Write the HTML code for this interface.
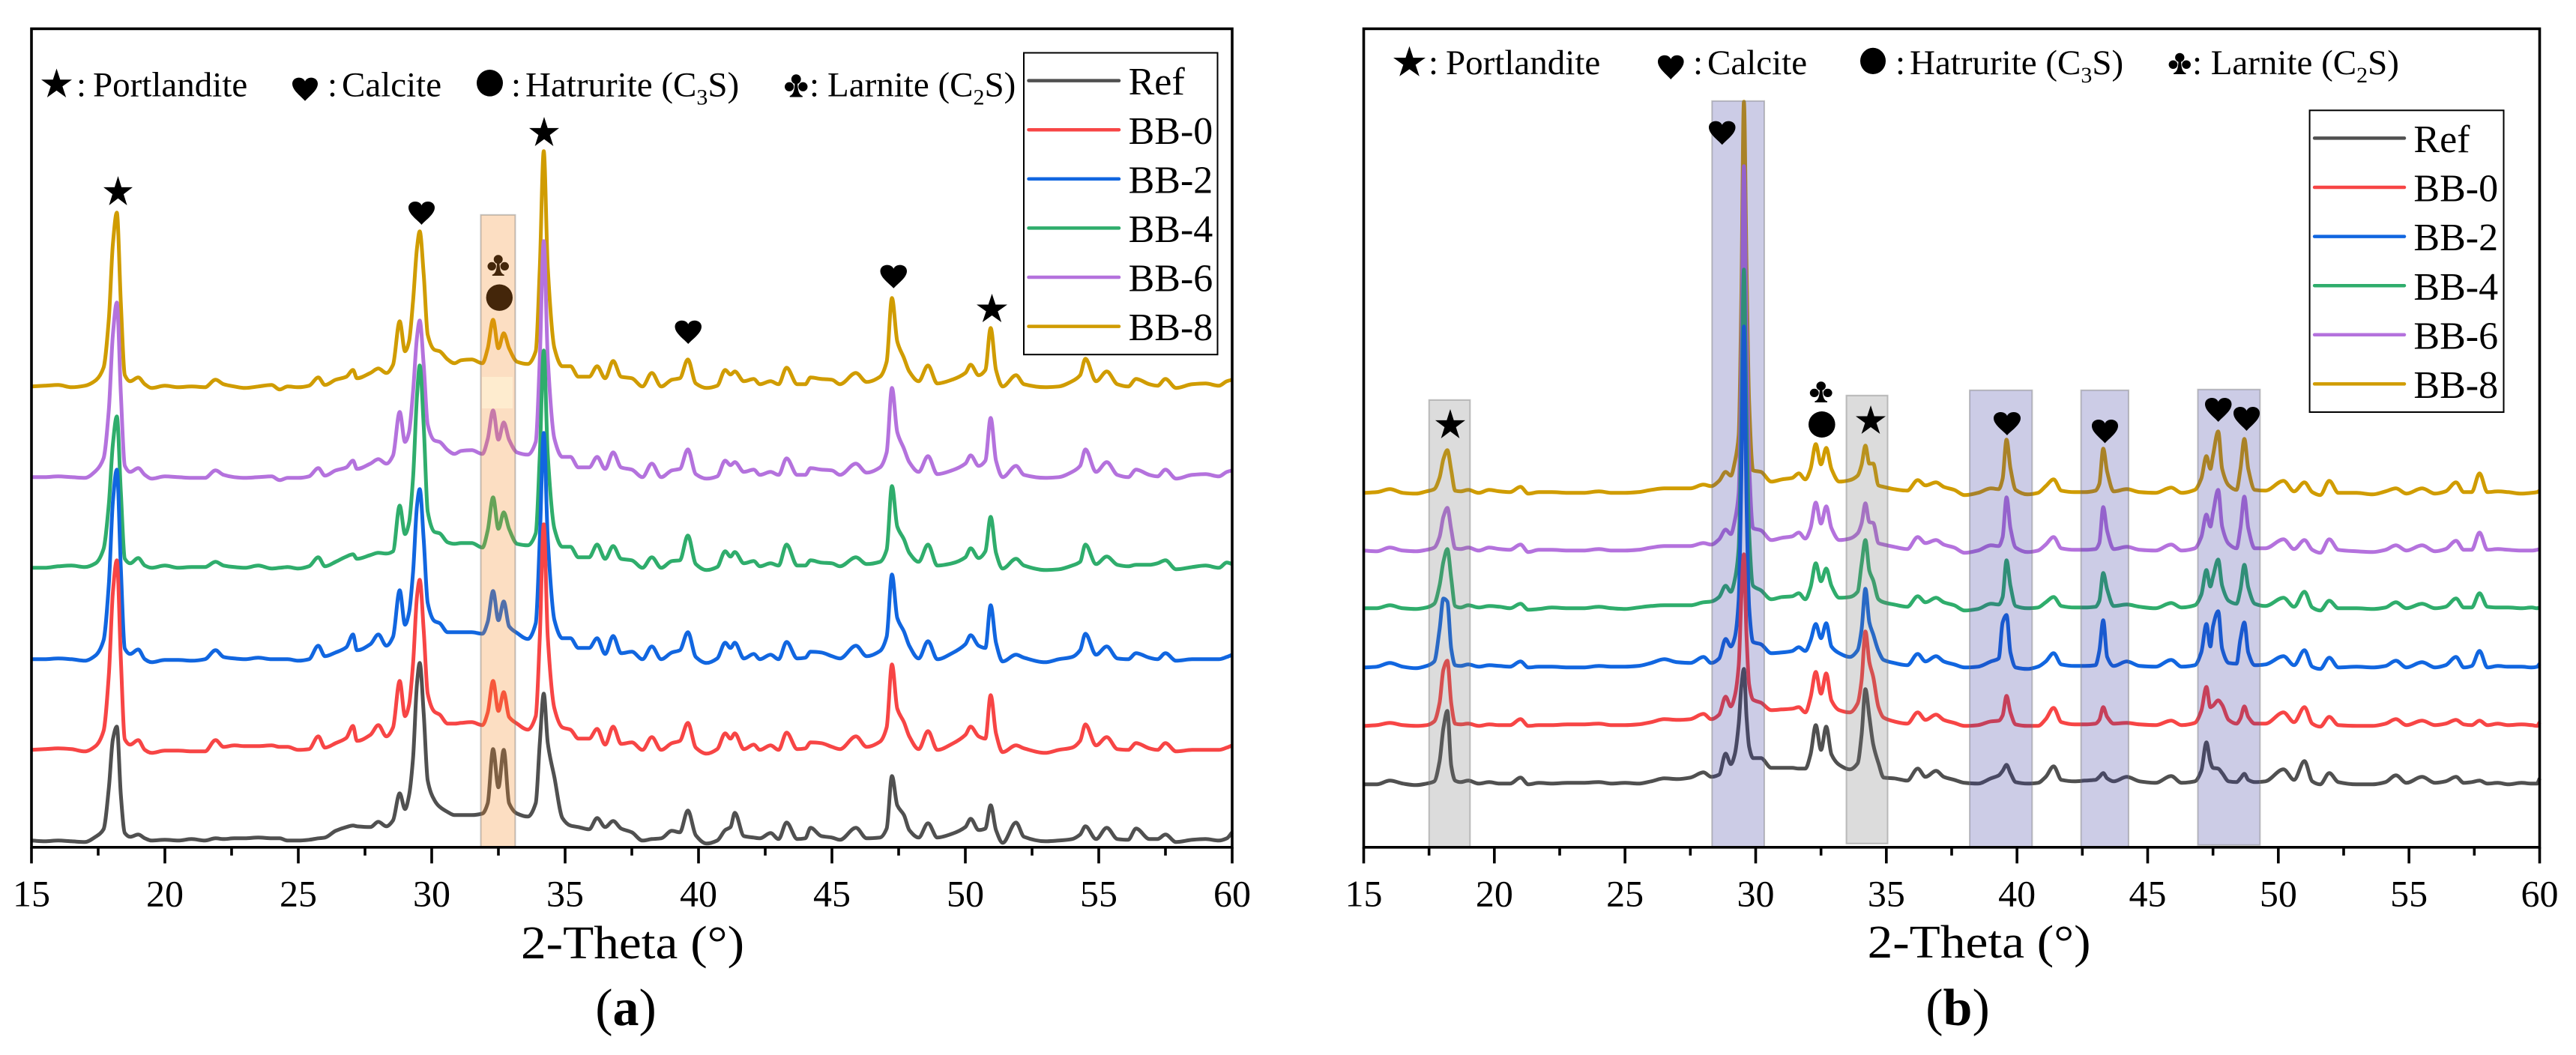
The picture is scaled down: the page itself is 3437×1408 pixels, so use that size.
<!DOCTYPE html>
<html lang="en">
<head>
<meta charset="utf-8">
<title>XRD patterns of Ref and BB samples</title>
<style>
html,body{margin:0;padding:0;background:#fff;width:3437px;height:1408px;overflow:hidden}
svg{display:block}
text{font-family:"Liberation Serif",serif;fill:#000}
.tick{font-size:50px;text-anchor:middle}
.ann{font-size:47px}
.leg{font-size:52px}
.mk{fill:#000}
</style>
</head>
<body>
<svg xmlns="http://www.w3.org/2000/svg" width="3437" height="1408" viewBox="0 0 3437 1408">
<rect x="0" y="0" width="3437" height="1408" fill="#fff"/>

<!-- PANEL A -->
<g id="panel-a">
  <g id="a-series"></g>
  <path class="mk" transform="translate(650.5,340) scale(28.5,28)" d="M.29 .22a.21 .21 0 1 1 .42 0a.21 .21 0 1 1 -.42 0Z M0 .55a.2 .2 0 1 1 .4 0a.2 .2 0 1 1 -.4 0Z M.6 .55a.2 .2 0 1 1 .4 0a.2 .2 0 1 1 -.4 0Z M.44 .3H.56C.56 .7 .62 .9 .78 .95V1H.22V.95C.38 .9 .44 .7 .44 .3Z"/>
  <ellipse class="mk" cx="666.3" cy="397.2" rx="17.7" ry="17.7"/>
  <g id="a-bands"></g>
  <rect x="643" y="503" width="41" height="42" fill="#feeccf"/>
  <path class="mk" transform="translate(138,235) scale(39,39)" d="M.5 0L.618 .382L1 .382L.691 .618L.809 1L.5 .764L.191 1L.309 .618L0 .382L.382 .382Z"/>
  <path class="mk" transform="translate(545,269) scale(35,31)" d="M.5 1C.35 .8 0 .55 0 .26C0 .1 .12 0 .26 0C.37 0 .46 .06 .5 .16C.54 .06 .63 0 .74 0C.88 0 1 .1 1 .26C1 .55 .65 .8 .5 1Z"/>
  <path class="mk" transform="translate(706,156) scale(40,39)" d="M.5 0L.618 .382L1 .382L.691 .618L.809 1L.5 .764L.191 1L.309 .618L0 .382L.382 .382Z"/>
  <path class="mk" transform="translate(900.5,427.7) scale(35.5,31.3)" d="M.5 1C.35 .8 0 .55 0 .26C0 .1 .12 0 .26 0C.37 0 .46 .06 .5 .16C.54 .06 .63 0 .74 0C.88 0 1 .1 1 .26C1 .55 .65 .8 .5 1Z"/>
  <path class="mk" transform="translate(1174.5,353.6) scale(35.5,31.2)" d="M.5 1C.35 .8 0 .55 0 .26C0 .1 .12 0 .26 0C.37 0 .46 .06 .5 .16C.54 .06 .63 0 .74 0C.88 0 1 .1 1 .26C1 .55 .65 .8 .5 1Z"/>
  <path class="mk" transform="translate(1303,392) scale(41,38)" d="M.5 0L.618 .382L1 .382L.691 .618L.809 1L.5 .764L.191 1L.309 .618L0 .382L.382 .382Z"/>

  <g>
    <path class="mk" transform="translate(55,91.5) scale(41,38.5)" d="M.5 0L.618 .382L1 .382L.691 .618L.809 1L.5 .764L.191 1L.309 .618L0 .382L.382 .382Z"/>
    <text class="ann" x="102" y="128.6">:<tspan x="124">Portlandite</tspan></text>
    <path class="mk" transform="translate(390,103.6) scale(34,31.2)" d="M.5 1C.35 .8 0 .55 0 .26C0 .1 .12 0 .26 0C.37 0 .46 .06 .5 .16C.54 .06 .63 0 .74 0C.88 0 1 .1 1 .26C1 .55 .65 .8 .5 1Z"/>
    <text class="ann" x="437" y="128.6">:<tspan x="456">Calcite</tspan></text>
    <ellipse class="mk" cx="653.5" cy="110.8" rx="17.5" ry="17.8"/>
    <text class="ann" x="682" y="128.6">:<tspan x="701">Hatrurite (C</tspan><tspan dy="11" font-size="30">3</tspan><tspan dy="-11">S)</tspan></text>
    <path class="mk" transform="translate(1047,99) scale(30.5,30.5)" d="M.29 .22a.21 .21 0 1 1 .42 0a.21 .21 0 1 1 -.42 0Z M0 .55a.2 .2 0 1 1 .4 0a.2 .2 0 1 1 -.4 0Z M.6 .55a.2 .2 0 1 1 .4 0a.2 .2 0 1 1 -.4 0Z M.44 .3H.56C.56 .7 .62 .9 .78 .95V1H.22V.95C.38 .9 .44 .7 .44 .3Z"/>
    <text class="ann" x="1080" y="128.6">:<tspan x="1104">Larnite (C</tspan><tspan dy="11" font-size="30">2</tspan><tspan dy="-11">S)</tspan></text>
  </g>
  <g id="a-axes"></g>
  <text x="844" y="1279" font-size="62" text-anchor="middle" textLength="298" lengthAdjust="spacingAndGlyphs">2-Theta (°)</text>
  <text x="835" y="1368" font-size="70" text-anchor="middle">(<tspan font-weight="bold">a</tspan>)</text>
  <g id="a-legend"></g>
</g>

<!-- PANEL B -->
<g id="panel-b">
  <g id="b-series"></g>
  <g id="b-bands"></g>
  <path class="mk" transform="translate(1915,546) scale(40,39)" d="M.5 0L.618 .382L1 .382L.691 .618L.809 1L.5 .764L.191 1L.309 .618L0 .382L.382 .382Z"/>
  <path class="mk" transform="translate(2280,161.6) scale(35.5,31.7)" d="M.5 1C.35 .8 0 .55 0 .26C0 .1 .12 0 .26 0C.37 0 .46 .06 .5 .16C.54 .06 .63 0 .74 0C.88 0 1 .1 1 .26C1 .55 .65 .8 .5 1Z"/>
  <path class="mk" transform="translate(2414.8,509) scale(29.8,28)" d="M.29 .22a.21 .21 0 1 1 .42 0a.21 .21 0 1 1 -.42 0Z M0 .55a.2 .2 0 1 1 .4 0a.2 .2 0 1 1 -.4 0Z M.6 .55a.2 .2 0 1 1 .4 0a.2 .2 0 1 1 -.4 0Z M.44 .3H.56C.56 .7 .62 .9 .78 .95V1H.22V.95C.38 .9 .44 .7 .44 .3Z"/>
  <ellipse class="mk" cx="2430.8" cy="566.5" rx="17.8" ry="17.5"/>
  <path class="mk" transform="translate(2476,541) scale(40,38)" d="M.5 0L.618 .382L1 .382L.691 .618L.809 1L.5 .764L.191 1L.309 .618L0 .382L.382 .382Z"/>
  <path class="mk" transform="translate(2660,550) scale(36,31)" d="M.5 1C.35 .8 0 .55 0 .26C0 .1 .12 0 .26 0C.37 0 .46 .06 .5 .16C.54 .06 .63 0 .74 0C.88 0 1 .1 1 .26C1 .55 .65 .8 .5 1Z"/>
  <path class="mk" transform="translate(2791,560) scale(35,31.5)" d="M.5 1C.35 .8 0 .55 0 .26C0 .1 .12 0 .26 0C.37 0 .46 .06 .5 .16C.54 .06 .63 0 .74 0C.88 0 1 .1 1 .26C1 .55 .65 .8 .5 1Z"/>
  <path class="mk" transform="translate(2942,531) scale(35.5,32)" d="M.5 1C.35 .8 0 .55 0 .26C0 .1 .12 0 .26 0C.37 0 .46 .06 .5 .16C.54 .06 .63 0 .74 0C.88 0 1 .1 1 .26C1 .55 .65 .8 .5 1Z"/>
  <path class="mk" transform="translate(2980,543) scale(35,32)" d="M.5 1C.35 .8 0 .55 0 .26C0 .1 .12 0 .26 0C.37 0 .46 .06 .5 .16C.54 .06 .63 0 .74 0C.88 0 1 .1 1 .26C1 .55 .65 .8 .5 1Z"/>

  <g>
    <path class="mk" transform="translate(1859,61.6) scale(43,40.2)" d="M.5 0L.618 .382L1 .382L.691 .618L.809 1L.5 .764L.191 1L.309 .618L0 .382L.382 .382Z"/>
    <text class="ann" x="1906" y="99">:<tspan x="1929">Portlandite</tspan></text>
    <path class="mk" transform="translate(2212,73.7) scale(34.6,32.3)" d="M.5 1C.35 .8 0 .55 0 .26C0 .1 .12 0 .26 0C.37 0 .46 .06 .5 .16C.54 .06 .63 0 .74 0C.88 0 1 .1 1 .26C1 .55 .65 .8 .5 1Z"/>
    <text class="ann" x="2259" y="99">:<tspan x="2278">Calcite</tspan></text>
    <ellipse class="mk" cx="2499" cy="81.4" rx="17" ry="17.6"/>
    <text class="ann" x="2529" y="99">:<tspan x="2548">Hatrurite (C</tspan><tspan dy="11" font-size="30">3</tspan><tspan dy="-11">S)</tspan></text>
    <path class="mk" transform="translate(2893.6,70.5) scale(29.4,28.5)" d="M.29 .22a.21 .21 0 1 1 .42 0a.21 .21 0 1 1 -.42 0Z M0 .55a.2 .2 0 1 1 .4 0a.2 .2 0 1 1 -.4 0Z M.6 .55a.2 .2 0 1 1 .4 0a.2 .2 0 1 1 -.4 0Z M.44 .3H.56C.56 .7 .62 .9 .78 .95V1H.22V.95C.38 .9 .44 .7 .44 .3Z"/>
    <text class="ann" x="2925" y="99">:<tspan x="2949.7">Larnite (C</tspan><tspan dy="11" font-size="30">2</tspan><tspan dy="-11">S)</tspan></text>
  </g>
  <g id="b-axes"></g>
  <text x="2640.6" y="1278" font-size="62" text-anchor="middle" textLength="298" lengthAdjust="spacingAndGlyphs">2-Theta (°)</text>
  <text x="2612" y="1368" font-size="70" text-anchor="middle">(<tspan font-weight="bold">b</tspan>)</text>
  <g id="b-legend"></g>
</g>
</svg>

<script>
var xTickLabels = [15, 20, 25, 30, 35, 40, 45, 50, 55, 60];
var seriesNames = ['Ref', 'BB-0', 'BB-2', 'BB-4', 'BB-6', 'BB-8'];

/* ---------- Panel (a): 2-theta grid, stack offsets (a.u.), intensities (a.u.) ---------- */
var thetaA = [
15,15.5,16,16.5,17,17.4,17.7,17.9,18.05,18.2,
18.35,18.5,18.7,19,19.25,19.5,20,20.5,21,21.5,
21.9,22.2,22.6,23,23.5,24,24.3,24.6,25,25.4,
25.75,26,26.4,26.8,27.05,27.2,27.7,28,28.3,28.55,
28.8,29,29.15,29.3,29.45,29.55,29.7,29.85,30.1,30.3,
30.6,30.85,31.1,31.5,31.9,32.1,32.3,32.5,32.7,32.9,
33.2,33.6,33.9,34.05,34.2,34.35,34.6,34.9,35.2,35.5,
35.9,36.2,36.5,36.8,37.1,37.5,37.9,38.25,38.6,39,
39.3,39.6,39.9,40.3,40.7,41,41.2,41.36,41.7,42.07,
42.3,42.7,43,43.3,43.7,44,44.2,44.6,45,45.3,
45.9,46.3,46.8,47.05,47.25,47.45,47.7,47.9,48.25,48.6,
48.95,49.5,50,50.2,50.5,50.75,50.95,51.15,51.4,51.9,
52.2,53,53.5,54,54.3,54.5,54.9,55.3,55.7,56.1,
56.4,56.9,57.2,57.5,57.9,58.5,59,59.5,59.8,60];
var stackA = [9, 130, 251, 373, 494, 615];
var aRef = [
0,-1,0,-1,-2,5,15,70,135,152,
60,10,5,8,3,0,1,0,2,0,
3,2,3,3,4,3,3,0,0,1,
3,4,13,18,20,19,18,25,19,27,
63,42,60,110,210,237,170,80,54,45,
38,34,34,34,36,50,122,71,121,50,
36,32,50,130,196,130,84,30,20,18,
15,30,18,26,16,11,0,2,3,13,
11,40,7,-4,0,14,18,37,6,4,
3,10,2,24,2,3,17,6,4,1,
17,3,4,16,86,47,34,14,4,23,
4,9,18,29,14,16,47,14,-3,24,
5,-1,0,2,8,19,2,17,2,1,
16,2,2,8,-2,1,2,0,3,11];
var aBB0 = [
0,1,2,1,-2,5,25,100,210,253,
120,14,7,13,0,-4,-1,-1,-2,-2,
13,4,6,5,5,6,4,4,0,1,
18,3,9,16,32,12,20,33,18,30,
92,45,60,115,205,227,160,75,51,47,
35,35,36,37,33,50,92,52,77,44,
35,27,45,150,301,150,55,30,27,15,
15,28,7,31,8,10,0,17,0,9,
12,36,3,-5,1,22,15,22,1,7,
0,6,0,23,1,2,10,9,4,1,
18,4,11,30,114,55,37,18,1,25,
0,8,20,31,18,15,73,22,-3,6,
2,-4,0,3,12,34,6,17,1,0,
9,2,0,9,-2,0,0,0,3,6];
var aBB2 = [
0,0,1,0,-2,5,25,100,210,253,
120,14,7,13,0,-4,-1,-1,-2,0,
12,3,1,0,2,0,0,0,-2,0,
18,4,9,16,33,12,20,33,18,30,
92,46,62,116,205,227,160,75,51,48,
36,36,36,36,34,50,91,52,77,44,
35,27,48,160,302,160,52,28,28,15,
15,28,7,31,8,10,0,17,0,9,
12,36,3,-5,1,22,15,22,1,7,
0,6,0,23,1,2,10,9,4,1,
18,4,11,30,113,55,37,18,1,24,
0,8,20,32,18,15,72,22,-3,6,
2,-4,0,3,12,34,6,17,1,0,
8,2,0,8,-2,0,0,0,3,6];
var aBB4 = [
0,0,2,3,1,6,25,85,165,202,
100,12,6,13,3,0,3,0,1,1,
8,3,1,0,3,-1,0,1,-1,2,
14,2,8,15,18,12,17,20,19,22,
83,45,60,120,230,270,190,75,48,46,
34,32,33,33,27,50,94,52,74,52,
32,30,46,150,290,150,52,28,28,14,
14,31,12,29,12,10,0,14,0,9,
10,43,5,-3,1,22,15,21,6,9,
2,6,3,31,3,3,10,7,6,2,
14,5,8,24,109,55,38,20,8,31,
3,6,14,26,13,22,68,20,-1,12,
3,-3,-2,3,8,31,5,15,4,2,
4,4,6,10,-2,1,3,0,7,5];
var aBB6 = [
0,0,1,0,-1,8,25,90,190,233,
110,15,7,12,3,-2,1,0,-1,-1,
9,3,0,-1,0,1,-4,-1,-1,1,
12,2,9,13,22,11,18,24,18,29,
87,47,60,114,187,209,150,70,49,47,
36,31,35,36,31,51,89,50,73,50,
33,30,47,158,315,158,51,27,27,13,
13,27,11,33,13,10,0,18,0,9,
11,37,4,-2,1,22,16,20,7,10,
3,7,3,25,3,3,12,10,9,3,
18,6,13,33,119,60,38,20,7,28,
4,9,18,29,15,22,79,22,0,15,
3,-1,0,7,15,37,7,20,3,0,
10,3,1,10,-2,3,4,1,7,9];
var aBB8 = [
0,1,2,-1,1,8,25,90,190,232,
110,15,7,12,3,-2,1,-1,0,-1,
9,3,0,-2,0,2,-4,0,-1,1,
12,2,9,13,22,11,18,24,18,29,
87,47,60,114,185,207,150,69,49,47,
36,31,35,36,31,51,89,51,71,51,
33,30,47,158,314,158,51,27,27,13,
13,27,11,34,13,11,0,18,0,9,
11,36,4,-2,1,22,16,20,7,10,
3,7,3,25,3,3,12,10,9,3,
18,6,13,33,118,60,38,20,7,28,
4,9,18,29,15,22,78,22,0,15,
3,-1,0,7,15,37,7,20,3,0,
10,3,1,10,-2,3,4,1,7,9];

/* ---------- Panel (b) ---------- */
var thetaB = [
15,15.5,16,16.5,17,17.4,17.7,17.9,18.05,18.2,
18.35,18.5,18.7,19,19.4,19.8,20.2,20.6,21,21.3,
21.7,22.2,22.8,23.4,24,24.5,25,25.5,26,26.5,
27,27.5,28,28.3,28.6,28.85,29.05,29.2,29.35,29.45,
29.55,29.65,29.75,29.9,30.2,30.6,31,31.4,31.65,31.9,
32.1,32.3,32.5,32.7,32.9,33.2,33.6,33.9,34.05,34.2,
34.35,34.5,34.7,34.9,35.3,35.8,36.2,36.5,36.9,37.2,
37.6,38,38.5,39,39.3,39.45,39.6,39.75,39.95,40.4,
40.8,41.1,41.4,41.7,42.2,42.6,43,43.15,43.3,43.45,
43.7,44.2,44.7,45.3,45.9,46.3,46.8,47.05,47.25,47.4,
47.5,47.7,47.85,48.1,48.4,48.55,48.7,48.85,49.1,49.5,
50.2,50.6,51,51.3,51.6,51.95,52.3,53,53.6,54.1,
54.5,54.9,55.5,56,56.4,56.8,57.1,57.4,57.7,58,
58.4,58.8,59.3,59.7,59.9,60];
var stackB = [84, 162, 240, 319, 396, 473];
var bRef = [
0,0,5,1,-1,1,4,30,75,98,
25,5,3,5,1,3,1,1,9,0,
2,1,2,2,3,1,2,1,4,8,
7,9,16,10,13,41,27,40,80,130,
154,90,50,35,35,22,22,22,21,21,
40,79,46,77,40,26,20,28,65,127,
90,53,28,9,8,5,21,10,18,10,
6,2,1,8,12,18,26,15,3,1,
2,10,24,6,4,5,6,10,15,8,
4,10,4,2,11,2,4,18,56,30,
22,21,15,4,3,8,14,6,3,4,
20,6,31,4,0,15,3,0,0,3,
12,2,10,2,4,10,2,3,5,1,
2,0,2,1,1,8];
var bBB0 = [
0,1,4,1,0,1,6,30,75,87,
30,3,2,3,0,2,1,1,9,0,
1,1,2,2,3,1,1,2,5,9,
8,9,16,9,15,39,26,40,80,170,
229,120,55,35,31,21,22,23,25,18,
38,72,43,70,34,21,18,30,60,126,
85,65,25,11,6,3,18,8,15,8,
4,0,1,6,7,14,40,18,2,0,
0,9,24,5,2,2,3,8,25,12,
3,4,2,1,7,1,4,20,52,25,
27,34,28,8,3,10,26,12,3,3,
18,5,25,3,-1,12,1,0,0,3,
9,1,7,1,3,8,2,1,7,1,
3,1,2,1,0,5];
var bBB2 = [
0,1,6,1,-1,2,8,50,92,88,
25,3,2,4,1,3,2,1,8,0,
1,1,0,0,2,1,1,2,6,11,
7,6,14,6,12,38,28,40,90,250,
455,220,80,34,31,19,20,22,27,22,
36,58,39,59,28,19,14,23,50,105,
60,44,22,10,6,3,18,8,15,8,
4,0,1,8,12,60,70,20,0,-2,
1,8,19,4,2,2,3,22,63,14,
2,8,2,1,10,1,3,20,58,28,
55,75,25,6,5,38,60,20,3,4,
15,3,23,1,-2,13,0,1,0,2,
9,0,7,0,3,14,0,2,22,0,
2,1,1,0,1,5];
var bBB4 = [
0,0,4,0,-1,1,6,30,62,79,
40,3,1,4,1,3,2,0,6,-2,
-1,1,0,0,2,0,-1,1,3,4,
4,4,8,9,15,30,22,38,80,240,
452,250,100,30,24,12,15,16,20,12,
28,60,36,53,30,14,15,22,58,91,
50,37,12,8,5,2,16,8,14,8,
4,-3,-1,6,5,15,64,30,3,0,
1,8,15,3,1,1,2,10,47,25,
3,5,2,0,7,1,4,18,51,29,
42,65,30,10,6,25,58,28,6,3,
14,2,22,1,-3,10,0,0,-1,1,
8,0,6,0,2,13,1,1,20,2,
1,1,0,1,0,1];
var bBB6 = [
0,-1,4,0,-1,1,4,18,45,57,
28,3,2,4,0,4,2,1,8,-2,
1,1,0,0,2,0,0,1,4,6,
6,6,10,8,15,28,22,40,77,250,
513,290,115,30,27,14,17,19,24,16,
30,64,36,59,30,14,16,23,36,63,
38,37,10,8,5,2,18,10,14,8,
4,-3,0,7,6,18,71,30,4,-2,
0,8,18,3,1,1,2,10,58,26,
2,5,1,0,8,0,3,18,48,32,
50,81,32,9,3,30,72,30,3,3,
15,2,14,1,-3,15,1,-1,-2,1,
7,0,7,-1,2,13,1,1,24,1,
2,1,0,0,1,2];
var bBB8 = [
0,1,5,0,-1,2,5,20,45,57,
30,3,2,4,0,4,2,1,8,-1,
1,1,0,0,2,0,0,1,4,6,
6,6,11,9,16,28,23,41,77,255,
522,300,120,30,28,15,18,20,26,18,
32,65,38,60,32,15,17,23,37,63,
39,39,10,8,5,3,17,10,14,8,
4,-3,0,6,5,19,71,33,4,-2,
0,9,18,3,1,1,3,12,59,28,
2,5,1,0,7,0,4,19,49,32,
50,82,32,10,4,32,72,32,4,3,
16,2,14,1,-3,16,0,0,-2,2,
6,-1,6,-1,2,14,1,1,26,1,
2,1,-1,0,1,3];

/* highlight bands: start, end (degrees) and top (a.u.) */
var bandStartA = [31.84];
var bandEndA = [33.13];
var bandTopA = [844];
var bandStartB = [17.5, 28.33, 33.47, 38.19, 42.45, 46.92];
var bandEndB = [19.07, 30.33, 35.05, 40.58, 44.27, 49.3];
var bandTopB = [597, 996, 603, 610, 610, 611];
var bandBaseB = [0, 0, 5, 0, 0, 3];
var bandKindB = ['gray', 'blue', 'gray', 'blue', 'blue', 'blue'];

var seriesColors = ['#505050', '#f74545', '#1166e0', '#2fad6c', '#b472dd', '#d09c00'];
var SVGNS = 'http://www.w3.org/2000/svg';

function make(tag, parent) {
  var e = document.createElementNS(SVGNS, tag);
  parent.appendChild(e);
  return e;
}

/* monotone cubic path: keeps peak heights, rounds the corners */
function curve(xs, ys) {
  var n = xs.length, d = [], m = [], i;
  for (i = 0; i < n - 1; i++) d[i] = (ys[i + 1] - ys[i]) / (xs[i + 1] - xs[i]);
  m[0] = d[0];
  m[n - 1] = d[n - 2];
  for (i = 1; i < n - 1; i++) {
    m[i] = d[i - 1] * d[i] <= 0 ? 0 : 2 * d[i - 1] * d[i] / (d[i - 1] + d[i]);
  }
  var s = 'M' + xs[0].toFixed(1) + ' ' + ys[0].toFixed(1);
  for (i = 0; i < n - 1; i++) {
    var h = (xs[i + 1] - xs[i]) / 3;
    s += 'C' + (xs[i] + h).toFixed(1) + ' ' + (ys[i] + m[i] * h).toFixed(1) + ' ' +
         (xs[i + 1] - h).toFixed(1) + ' ' + (ys[i + 1] - m[i + 1] * h).toFixed(1) + ' ' +
         xs[i + 1].toFixed(1) + ' ' + ys[i + 1].toFixed(1);
  }
  return s;
}

function drawPanel(p) {
  var sx = function (t) { return p.left + (t - 15) * (p.right - p.left) / 45; };
  var sy = function (v) { return p.bottom - v * (p.bottom - p.top) / 1092.4; };

  /* series: bottom-most drawn last */
  var gs = document.getElementById(p.id + '-series');
  for (var i = seriesNames.length - 1; i >= 0; i--) {
    var xs = [], ys = [];
    for (var k = 0; k < p.theta.length; k++) {
      xs.push(sx(p.theta[k]));
      ys.push(sy(p.stack[i] + p.values[i][k]));
    }
    var path = make('path', gs);
    
    
    path.setAttribute('d', curve(xs, ys));
    path.setAttribute('fill', 'none');
    path.setAttribute('stroke', seriesColors[i]);
    path.setAttribute('stroke-width', '5');
    path.setAttribute('stroke-linejoin', 'round');
  }

  /* bands */
  var gb = document.getElementById(p.id + '-bands');
  for (var b = 0; b < p.bandStart.length; b++) {
    var r = make('rect', gb);
    
    
    var base = p.bandBase ? p.bandBase[b] : 0;
    r.setAttribute('x', sx(p.bandStart[b]));
    r.setAttribute('width', sx(p.bandEnd[b]) - sx(p.bandStart[b]));
    r.setAttribute('y', sy(p.bandTop[b]));
    r.setAttribute('height', sy(base) - sy(p.bandTop[b]));
    r.setAttribute('fill', p.bandFill[b]);
    r.setAttribute('stroke', 'rgba(110,110,110,0.4)');
    r.setAttribute('stroke-width', '2');
  }

  /* axes */
  var ga = document.getElementById(p.id + '-axes');
  var frame = make('rect', ga);
  
  
  frame.setAttribute('x', p.left);
  frame.setAttribute('y', p.top);
  frame.setAttribute('width', p.right - p.left);
  frame.setAttribute('height', p.bottom - p.top);
  frame.setAttribute('fill', 'none');
  frame.setAttribute('stroke', '#000');
  frame.setAttribute('stroke-width', '3.6');
  for (var n = 0; n < xTickLabels.length; n++) {
    var t = xTickLabels[n];
    var major = make('line', ga);
    
    
    major.setAttribute('x1', sx(t));
    major.setAttribute('x2', sx(t));
    major.setAttribute('y1', p.bottom);
    major.setAttribute('y2', p.bottom + 21.5);
    major.setAttribute('stroke', '#000');
    major.setAttribute('stroke-width', '3.6');
    var lab = make('text', ga);
    
    
    lab.setAttribute('class', 'tick');
    lab.setAttribute('x', sx(t));
    lab.setAttribute('y', p.bottom + 78.5);
    lab.textContent = t;
    if (n < xTickLabels.length - 1) {
      var mt = (t + xTickLabels[n + 1]) / 2;
      var minor = make('line', ga);
      
      
      minor.setAttribute('x1', sx(mt));
      minor.setAttribute('x2', sx(mt));
      minor.setAttribute('y1', p.bottom);
      minor.setAttribute('y2', p.bottom + 11);
      minor.setAttribute('stroke', '#000');
      minor.setAttribute('stroke-width', '3.6');
    }
  }

  /* legend */
  var gl = document.getElementById(p.id + '-legend');
  var box = make('rect', gl);
  
  
  box.setAttribute('x', p.legX);
  box.setAttribute('y', p.legY);
  box.setAttribute('width', p.legW);
  box.setAttribute('height', 402.7);
  box.setAttribute('fill', '#fff');
  box.setAttribute('stroke', '#000');
  box.setAttribute('stroke-width', '2');
  for (var s = 0; s < seriesNames.length; s++) {
    var ly = p.legY + 37.1 + s * 65.6;
    var ll = make('line', gl);
    
    
    ll.setAttribute('x1', p.legX + 6.5);
    ll.setAttribute('x2', p.legX + p.legLine);
    ll.setAttribute('y1', ly);
    ll.setAttribute('y2', ly);
    ll.setAttribute('stroke', seriesColors[s]);
    ll.setAttribute('stroke-width', '4.5');
    ll.setAttribute('stroke-linecap', 'round');
    var lt = make('text', gl);
    
    
    lt.setAttribute('class', 'leg');
    lt.setAttribute('x', p.legX + p.legText);
    lt.setAttribute('y', ly + 18.6);
    lt.textContent = seriesNames[s];
  }
}

var fillBlue = 'rgba(51,51,155,0.25)';
var fillGray = 'rgba(115,115,115,0.25)';
var fillOrange = 'rgba(246,136,36,0.28)';

drawPanel({
  id: 'a', left: 42, right: 1644, top: 38.4, bottom: 1130.8,
  theta: thetaA, stack: stackA,
  values: [aRef, aBB0, aBB2, aBB4, aBB6, aBB8],
  bandStart: bandStartA, bandEnd: bandEndA, bandTop: bandTopA, bandFill: [fillOrange],
  legX: 1366, legY: 70.5, legW: 258.5, legLine: 127, legText: 139.6
});
drawPanel({
  id: 'b', left: 1819.5, right: 3388.5, top: 38.4, bottom: 1130.8,
  theta: thetaB, stack: stackB,
  values: [bRef, bBB0, bBB2, bBB4, bBB6, bBB8],
  bandStart: bandStartB, bandEnd: bandEndB, bandTop: bandTopB, bandBase: bandBaseB,
  bandFill: bandKindB.map(function (k) { return k === 'blue' ? fillBlue : fillGray; }),
  legX: 3081.6, legY: 147.3, legW: 258.9, legLine: 126.4, legText: 138.8
});
</script>
</body>
</html>
